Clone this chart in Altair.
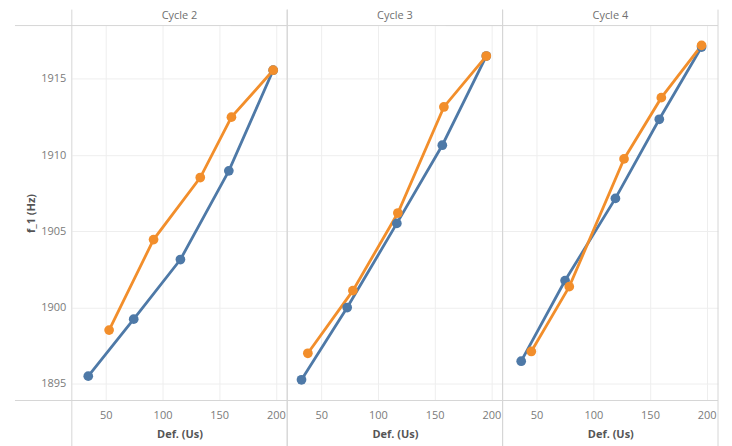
import altair as alt
import pandas as pd

cycles = ["Cycle 2", "Cycle 3", "Cycle 4"]
series_names = ["Loading", "Unloading"]

x_c2_a = [34.5, 74.6, 115.8, 158.5, 197.6]
y_c2_a = [1895.5, 1899.24, 1903.15, 1908.97, 1915.57]
x_c2_b = [52.9, 92.1, 133.3, 160.8, 197.6]
y_c2_b = [1898.52, 1904.46, 1908.53, 1912.49, 1915.57]

x_c3_a = [32.6, 72.9, 116.7, 156.8, 195.6]
y_c3_a = [1895.26, 1900.0, 1905.52, 1910.65, 1916.5]
x_c3_b = [38.2, 77.9, 117.6, 158.2, 195.6]
y_c3_b = [1897.0, 1901.11, 1906.2, 1913.16, 1916.5]

x_c4_a = [36.4, 75.1, 119.5, 158.2, 195.5]
y_c4_a = [1896.48, 1901.77, 1907.16, 1912.35, 1917.09]
x_c4_b = [45.3, 78.8, 127.1, 160.0, 195.5]
y_c4_b = [1897.12, 1901.37, 1909.75, 1913.77, 1917.2]

x_ticks = [50, 100, 150, 200]
y_ticks = [1895, 1900, 1905, 1910, 1915]

rows = []
sets = [
    ("Cycle 2", "Loading", x_c2_a, y_c2_a),
    ("Cycle 2", "Unloading", x_c2_b, y_c2_b),
    ("Cycle 3", "Loading", x_c3_a, y_c3_a),
    ("Cycle 3", "Unloading", x_c3_b, y_c3_b),
    ("Cycle 4", "Loading", x_c4_a, y_c4_a),
    ("Cycle 4", "Unloading", x_c4_b, y_c4_b),
]
for cyc, ser, xs, ys in sets:
    for i, (xv, yv) in enumerate(zip(xs, ys)):
        rows.append({"cycle": cyc, "series": ser, "i": i, "def": xv, "f1": yv})
df = pd.DataFrame(rows)

W, H = 216, 376
FONT = "Open Sans"
GRID = "#eeeeee"
BORDER = "#d6d6d6"

xenc = alt.X("def:Q", scale=alt.Scale(domain=[20, 210], nice=False, zero=False),
             axis=alt.Axis(title="Def. (Us)", values=x_ticks, grid=True, gridColor=GRID,
                           ticks=False, domain=False, labelPadding=9, titlePadding=8,
                           labelColor="#7a7a7a", labelFontSize=11, labelFont=FONT,
                           titleColor="#555555", titleFontSize=11, titleFont=FONT,
                           titleFontWeight="bold"))
yenc = alt.Y("f1:Q", scale=alt.Scale(domain=[1893.9, 1918.5], nice=False, zero=False),
             axis=alt.Axis(title="f_1 (Hz)", values=y_ticks, format="d", grid=True, gridColor=GRID,
                           ticks=False, domain=False, labelPadding=6, titlePadding=4,
                           labelColor="#7a7a7a", labelFontSize=11, labelFont=FONT,
                           titleColor="#555555", titleFontSize=11, titleFont=FONT,
                           titleFontWeight="bold"))
color = alt.Color("series:N", scale=alt.Scale(domain=series_names, range=["#4e79a7", "#f28e2b"]),
                  legend=None)

base = alt.Chart(df)
lines = base.mark_line(strokeWidth=2.8).encode(x=xenc, y=yenc, color=color, order=alt.Order("i:Q"))
pts = base.mark_circle(size=95, opacity=1).encode(x=xenc, y=yenc, color=color)

one = base.transform_filter("datum.i == 0 && datum.series == 'Loading'")
vrule_l = one.mark_rule(color=BORDER, strokeWidth=1).encode(
    x=alt.value(0), y=alt.value(-16), y2=alt.value(422))
vrule_r = one.mark_rule(color=BORDER, strokeWidth=1).encode(
    x=alt.value(W), y=alt.value(-16), y2=alt.value(422))
hrule_t = one.mark_rule(color=BORDER, strokeWidth=1).encode(
    x=alt.value(-57), x2=alt.value(W), y=alt.value(0))
hrule_b = one.mark_rule(color=BORDER, strokeWidth=1).encode(
    x=alt.value(-57), x2=alt.value(W), y=alt.value(H))

layer = alt.layer(vrule_l, vrule_r, hrule_t, hrule_b, lines, pts).properties(width=W, height=H)

chart = layer.facet(
    column=alt.Column("cycle:N", sort=cycles,
                      header=alt.Header(title=None, labelFontSize=11, labelColor="#707070",
                                        labelFont=FONT, labelPadding=5)),
    spacing=0,
).properties(
    bounds="flush",
    padding={"left": 6, "top": 0, "right": 5, "bottom": 0},
).configure_view(stroke=None)

chart.save("out.html", embed_options={"renderer": "svg", "actions": False})
